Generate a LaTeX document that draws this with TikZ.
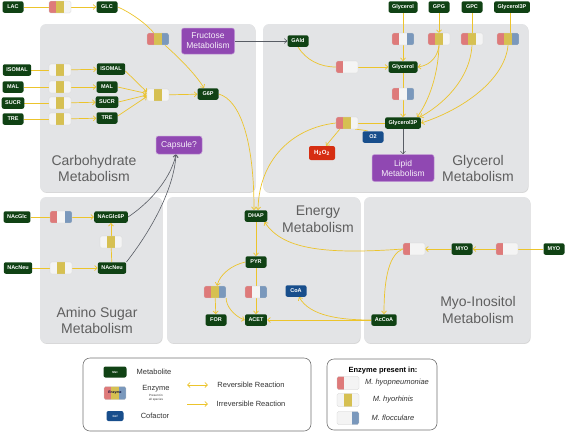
\documentclass[tikz,border=0pt]{standalone}
\usepackage{fontspec}
\setmainfont{Liberation Sans}
\usetikzlibrary{arrows.meta,shadows}
\definecolor{metg}{RGB}{16,66,20}
\definecolor{cofb}{RGB}{24,78,140}
\definecolor{hred}{RGB}{214,46,18}
\definecolor{purp}{RGB}{144,72,178}
\definecolor{pgray}{RGB}{227,228,230}
\definecolor{tgray}{RGB}{95,95,95}
\definecolor{yel}{RGB}{236,196,44}
\definecolor{ered}{RGB}{222,122,122}
\definecolor{eyel}{RGB}{214,192,82}
\definecolor{eblu}{RGB}{122,152,188}
\definecolor{ew}{RGB}{244,244,244}
\definecolor{garrow}{RGB}{88,92,100}
\pgfdeclarelayer{bg}
\pgfdeclarelayer{edges}
\pgfsetlayers{bg,edges,main}
\tikzset{
  panel/.style={fill=pgray, rounded corners=6pt, inner sep=0pt,
    drop shadow={shadow xshift=0.6pt, shadow yshift=-0.9pt, opacity=0.35, fill=black!45}},
  ptitle/.style={text=tgray, align=center, font=\fontsize{14}{16.5}\selectfont},
  met/.style={fill=metg, text=white, rounded corners=2pt, inner xsep=3.5pt, inner ysep=0pt,
    minimum width=21pt, minimum height=11.5pt, font=\fontsize{5.5}{6}\selectfont\bfseries},
  cof/.style={met, fill=cofb},
  pbox/.style={fill=purp, draw=purp!55!white, line width=0.5pt, text=white!92!purp, rounded corners=2.5pt,
    align=center, inner sep=1pt, font=\fontsize{8.5}{10}\selectfont},
  enz/.style n args={3}{minimum width=22pt, minimum height=12pt, inner sep=0pt, rounded corners=1.5pt,
    fill=ew, draw=black!18, line width=0.3pt,
    path picture={
      \fill[#1,sharp corners] (path picture bounding box.south west) rectangle ++(7.33pt,14pt);
      \fill[#2,sharp corners] ([xshift=7.33pt]path picture bounding box.south west) rectangle ++(7.34pt,14pt);
      \fill[#3,sharp corners] ([xshift=14.67pt]path picture bounding box.south west) rectangle ++(7.33pt,14pt);
    }},
  conn/.style={draw=yel, line width=0.7pt},
  yarr/.style={conn, -{Straight Barb[length=2.6pt,width=5pt]}},
  yrev/.style={conn, {Straight Barb[length=2.6pt,width=5pt]}-{Straight Barb[length=2.6pt,width=5pt]}},
  garr/.style={draw=garrow, line width=0.6pt, -{Straight Barb[length=2.6pt,width=5pt]}},
  legbox/.style={draw=black!55, line width=0.6pt, fill=white, rounded corners=7pt, inner sep=0pt},
  ltext/.style={text=black!80, font=\fontsize{7.5}{9}\selectfont, inner sep=0pt},
}
\begin{document}
\begin{tikzpicture}[x=1pt,y=-1pt]
\useasboundingbox (0,0) rectangle (567,432);
% panels
\begin{pgfonlayer}{bg}
\node[panel, minimum width=215pt, minimum height=168pt] (pCarb) at (147.5,108) {};
\node[panel, minimum width=265pt, minimum height=168pt] (pGly) at (395.5,108) {};
\node[panel, minimum width=122pt, minimum height=146pt] (pAmi) at (101,270) {};
\node[panel, minimum width=193pt, minimum height=146pt] (pEne) at (263.5,270) {};
\node[panel, minimum width=166pt, minimum height=146pt] (pMyo) at (447,270) {};
\end{pgfonlayer}
\node[ptitle] (tCarb) at (94,168.5) {Carbohydrate\\Metabolism};
\node[ptitle] (tGly) at (478,168.5) {Glycerol\\Metabolism};
\node[ptitle] (tAmi) at (97,320.5) {Amino Sugar\\Metabolism};
\node[ptitle] (tEne) at (318,219) {Energy\\Metabolism};
\node[ptitle] (tMyo) at (478,310) {Myo-Inositol\\Metabolism};
% carbohydrate
\node[met] (LAC) at (13,7) {LAC};
\node[enz={ered}{eyel}{ew}] (eLG) at (60,7) {};
\node[met] (GLC) at (107,7) {GLC};
\node[enz={ered}{eyel}{eblu}] (eG6) at (158,39) {};
\node[pbox, minimum width=53pt, minimum height=26pt] (Fruc) at (208,41) {Fructose\\Metabolism};
\node[met] (ISOl) at (17,70) {ISOMAL};
\node[met] (MALl) at (13,87) {MAL};
\node[met] (SUCl) at (13,103) {SUCR};
\node[met] (TREl) at (13,119) {TRE};
\node[enz={ew}{eyel}{ew}] (eI) at (60,70) {};
\node[enz={ew}{eyel}{ew}] (eMA) at (60,87) {};
\node[enz={ew}{eyel}{ew}] (eS) at (60,103) {};
\node[enz={ew}{eyel}{ew}] (eT) at (60,119) {};
\node[met] (ISOr) at (111,69) {ISOMAL};
\node[met] (MALr) at (107,87) {MAL};
\node[met] (SUCr) at (107,102) {SUCR};
\node[met] (TREr) at (107,118) {TRE};
\node[enz={ew}{eyel}{ew}] (eMg) at (158,95) {};
\node[met] (G6P) at (208,94) {G6P};
\node[pbox, minimum width=46pt, minimum height=18pt] (Caps) at (179,145) {Capsule?};
% glycerol
\node[met] (GlyT) at (403,7) {Glycerol};
\node[met] (GPG) at (439,7) {GPG};
\node[met] (GPC) at (472,7) {GPC};
\node[met] (G3PT) at (512,7) {Glycerol3P};
\node[enz={ered}{ew}{eblu}] (eG1) at (403,39) {};
\node[enz={ered}{eyel}{ew}] (eG2) at (439,39) {};
\node[enz={ered}{eyel}{ew}] (eG3) at (472,39) {};
\node[enz={ered}{eyel}{eblu}] (eG4) at (508,39) {};
\node[met] (GAld) at (298,41) {GAld};
\node[enz={ered}{ew}{ew}] (eGA) at (347,67) {};
\node[met] (GlyM) at (403,67) {Glycerol};
\node[enz={ered}{ew}{eblu}] (eG5) at (403,94) {};
\node[met] (G3PM) at (403,123) {Glycerol3P};
\node[enz={ered}{eyel}{ew}] (eGO) at (347,123) {};
\node[cof] (O2) at (373,137) {O2};
\node[met, fill=hred, minimum width=26pt, minimum height=14pt, font=\fontsize{6}{7}\selectfont\bfseries] (H2O2) at (322,153) {H\textsubscript{2}O\textsubscript{2}};
\node[pbox, minimum width=62pt, minimum height=27pt] (Lipid) at (403,168) {Lipid\\Metabolism};
% amino sugar
\node[met] (NAcGlc) at (17,217) {NAcGlc};
\node[enz={ered}{ew}{eblu}] (eA1) at (61,217) {};
\node[met] (NAcGlc6P) at (111,217) {NAcGlc6P};
\node[enz={ew}{eyel}{ew}] (eA3) at (111,242) {};
\node[met] (NAcNeuL) at (18,268) {NAcNeu};
\node[enz={ew}{eyel}{ew}] (eA2) at (61,268) {};
\node[met] (NAcNeuR) at (112,268) {NAcNeu};
% energy
\node[met] (DHAP) at (256,216) {DHAP};
\node[met] (PYR) at (256,262) {PYR};
\node[enz={ered}{eyel}{eblu}] (eE1) at (215,292) {};
\node[enz={ered}{ew}{eblu}] (eE2) at (256,292) {};
\node[cof] (CoA) at (296,291) {CoA};
\node[met] (FOR) at (216,320) {FOR};
\node[met] (ACET) at (256,320) {ACET};
% myo-inositol
\node[enz={ered}{ew}{ew}] (eM1) at (414,249) {};
\node[met] (MYOm) at (462,249) {MYO};
\node[enz={ered}{ew}{ew}] (eM2) at (507,249) {};
\node[met] (MYOr) at (554,249) {MYO};
\node[met] (AcCoA) at (384,320) {AcCoA};
% connectors
\begin{pgfonlayer}{edges}
\draw[conn] (LAC) -- (eLG);
\draw[yarr] (eLG) -- (GLC);
\draw[conn] (GLC.east) .. controls (130,12) and (148,25) .. (eG6);
\draw[yarr] (eG6) .. controls (176,55) and (194,72) .. ([xshift=-4pt]G6P.north);
\draw[garr] (Fruc) -- (GAld);
\draw[conn] (ISOl) -- (eI);
\draw[yarr] (eI) -- (ISOr);
\draw[conn] (MALl) -- (eMA);
\draw[yarr] (eMA) -- (MALr);
\draw[conn] (SUCl) -- (eS);
\draw[yarr] (eS) -- (SUCr);
\draw[conn] (TREl) -- (eT);
\draw[yarr] (eT) -- (TREr);
\draw[yarr] ([yshift=-2pt]ISOr.east) -- ([yshift=3pt]eMg.west);
\draw[yarr] (MALr.east) -- ([yshift=1.5pt]eMg.west);
\draw[yarr] (SUCr.east) -- ([yshift=0pt]eMg.west);
\draw[yarr] ([yshift=2pt]TREr.east) -- ([yshift=-1.5pt]eMg.west);
\draw[yarr] (eMg) -- (G6P);
\draw[yarr] (G6P.east) .. controls (240,100) and (254,140) .. ([xshift=-2pt]DHAP.north);
\draw[conn] (G3PM) -- (eGO);
\draw[yarr] (eGO.west) .. controls (292,128) and (259,160) .. ([xshift=2pt]DHAP.north);
\draw[yarr] ([xshift=4pt]eGO.south west) .. controls (334,136) .. ([xshift=4pt]H2O2.north);
\draw[conn] ([xshift=-5pt]O2.north) .. controls (363,130) .. ([xshift=-3pt]eGO.south east);
\draw[conn] (GAld.south) .. controls (306,60) and (320,67) .. (eGA);
\draw[yarr] (eGA) -- (GlyM);
\draw[conn] (GlyT) -- (eG1);
\draw[yarr] (eG1) -- (GlyM);
\draw[yarr] (GPG) -- (eG2);
\draw[yarr] (eG2.south) .. controls (438,55) and (432,65) .. (GlyM.east);
\draw[yarr] (eG2.south) .. controls (438,80) and (426,105) .. ([xshift=-4pt]G3PM.north east);
\draw[conn] (GPC) -- (eG3);
\draw[yarr] (eG3.south) .. controls (470,80) and (442,105) .. ([xshift=-1pt]G3PM.north east);
\draw[conn] ([xshift=-2pt]G3PT.south) -- ([xshift=2pt]eG4.north);
\draw[yarr] (eG4.south) .. controls (505,80) and (462,110) .. (G3PM.east);
\draw[conn] (GlyM) -- (eG5);
\draw[yarr] (eG5) -- (G3PM);
\draw[garr] (G3PM) -- (Lipid);
\draw[conn] (NAcGlc) -- (eA1);
\draw[yarr] (eA1) -- (NAcGlc6P);
\draw[conn] (NAcNeuL) -- (eA2);
\draw[yarr] (eA2) -- (NAcNeuR);
\draw[conn] (NAcNeuR) -- (eA3);
\draw[yarr] (eA3) -- (NAcGlc6P);
\draw[garr] (NAcGlc6P.east) .. controls (145,206) and (170,182) .. ([xshift=-3pt]Caps.south);
\draw[garr] (NAcNeuR.north east) .. controls (150,232) and (174,190) .. ([xshift=-3pt]Caps.south);
\draw[yarr] (DHAP) -- (PYR);
\draw[yarr] (PYR.west) .. controls (232,265) and (220,274) .. ([xshift=2pt]eE1.north);
\draw[yarr] (eE1) -- (FOR);
\draw[yarr] (eE1.south east) .. controls (226,306) and (234,316) .. (ACET.west);
\draw[conn] (PYR) -- (eE2);
\draw[yarr] (eE2) -- (ACET);
\draw[yarr] (AcCoA) -- (ACET);
\draw[yarr] (AcCoA.west) .. controls (340,320) and (310,316) .. ([xshift=3pt]CoA.south);
\draw[conn] (MYOr) -- (eM2);
\draw[yarr] (eM2) -- (MYOm);
\draw[yarr] (MYOm) -- (eM1);
\draw[yarr] (eM1.west) .. controls (390,254) and (384,275) .. (AcCoA.north);
\draw[yarr] (eM1.west) .. controls (320,255) and (282,248) .. ([xshift=-3pt]DHAP.south east);
\end{pgfonlayer}
% legend
\node[legbox, minimum width=228pt, minimum height=73pt] (legL) at (197,394.5) {};
\node[legbox, minimum width=110pt, minimum height=71pt] (legR) at (382,394.5) {};
\node[met, minimum width=23pt, minimum height=11pt, font=\fontsize{3}{3.5}\selectfont\bfseries] (lMet) at (115,372) {Met};
\node[ltext] (lMetT) at (154,372) {Metabolite};
\node[enz={ered}{eyel}{eblu}, minimum height=13pt, font=\fontsize{3.5}{4}\selectfont\bfseries, text=black!80!blue] (lEnz) at (115,393) {Enzyme};
\node[ltext] (lEnzT) at (156,389) {Enzyme};
\node[font=\fontsize{3}{3.5}\selectfont, align=center, inner sep=0pt, text=black!80] (lEnzS) at (156,397.5) {Present in\\all species};
\node[cof, minimum width=17pt, minimum height=10pt, font=\fontsize{3}{3.5}\selectfont\bfseries] (lCof) at (115,416) {Cof};
\node[ltext] (lCofT) at (155,416) {Cofactor};
\coordinate (rv1) at (187,385);
\coordinate (rv2) at (208,385);
\draw[yrev] (rv1) -- (rv2);
\node[ltext] (lRev) at (251,385) {Reversible Reaction};
\coordinate (ir1) at (187,404);
\coordinate (ir2) at (208,404);
\draw[yarr] (ir1) -- (ir2);
\node[ltext] (lIrr) at (251,404) {Irreversible Reaction};
\node[ltext, font=\fontsize{7.5}{9}\selectfont\bfseries, text=black] (lPres) at (383,371) {Enzyme present in:};
\node[enz={ered}{ew}{ew}, minimum height=13pt] (lE1) at (348,383) {};
\node[enz={ew}{eyel}{ew}, minimum height=13pt] (lE2) at (348,400) {};
\node[enz={ew}{ew}{eblu}, minimum height=13pt] (lE3) at (348,418) {};
\node[ltext, font=\fontsize{7.5}{9}\selectfont\itshape] (lS1) at (397,383) {M. hyopneumoniae};
\node[ltext, font=\fontsize{7.5}{9}\selectfont\itshape] (lS2) at (393,400) {M. hyorhinis};
\node[ltext, font=\fontsize{7.5}{9}\selectfont\itshape] (lS3) at (393,418) {M. flocculare};
\end{tikzpicture}
\end{document}
